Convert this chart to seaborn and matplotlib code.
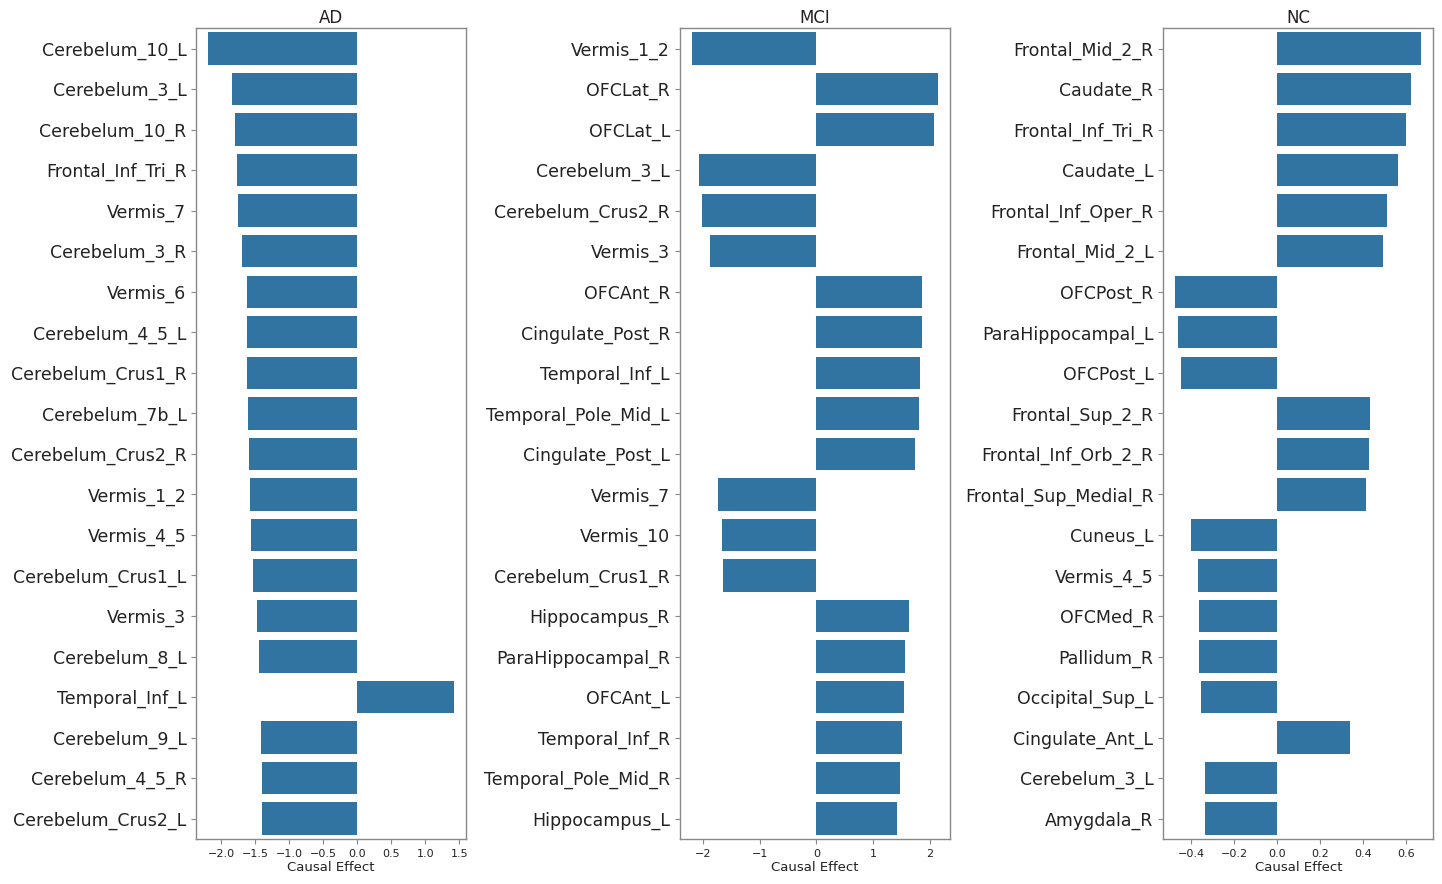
"""
Top causal effects per diagnostic group (AD / MCI / NC).
"""
import matplotlib
matplotlib.use("Agg")
import matplotlib.pyplot as plt
import seaborn as sns
import pandas as pd

# AD group
ad_regions = [
    "Cerebelum_10_L", "Cerebelum_3_L", "Cerebelum_10_R", "Frontal_Inf_Tri_R",
    "Vermis_7", "Cerebelum_3_R", "Vermis_6", "Cerebelum_4_5_L",
    "Cerebelum_Crus1_R", "Cerebelum_7b_L", "Cerebelum_Crus2_R", "Vermis_1_2",
    "Vermis_4_5", "Cerebelum_Crus1_L", "Vermis_3", "Cerebelum_8_L",
    "Temporal_Inf_L", "Cerebelum_9_L", "Cerebelum_4_5_R", "Cerebelum_Crus2_L",
]
ad_effects = [
    -2.19, -1.84, -1.80, -1.77, -1.75, -1.69, -1.62, -1.62, -1.62, -1.61,
    -1.60, -1.58, -1.56, -1.53, -1.47, -1.44, 1.42, -1.41, -1.40, -1.40,
]

# MCI group
mci_regions = [
    "Vermis_1_2", "OFCLat_R", "OFCLat_L", "Cerebelum_3_L", "Cerebelum_Crus2_R",
    "Vermis_3", "OFCAnt_R", "Cingulate_Post_R", "Temporal_Inf_L",
    "Temporal_Pole_Mid_L", "Cingulate_Post_L", "Vermis_7", "Vermis_10",
    "Cerebelum_Crus1_R", "Hippocampus_R", "ParaHippocampal_R", "OFCAnt_L",
    "Temporal_Inf_R", "Temporal_Pole_Mid_R", "Hippocampus_L",
]
mci_effects = [
    -2.20, 2.14, 2.08, -2.07, -2.02, -1.88, 1.86, 1.86, 1.83, 1.81,
    1.74, -1.74, -1.67, -1.65, 1.63, 1.56, 1.55, 1.51, 1.48, 1.42,
]

# NC group
nc_regions = [
    "Frontal_Mid_2_R", "Caudate_R", "Frontal_Inf_Tri_R", "Caudate_L",
    "Frontal_Inf_Oper_R", "Frontal_Mid_2_L", "OFCPost_R", "ParaHippocampal_L",
    "OFCPost_L", "Frontal_Sup_2_R", "Frontal_Inf_Orb_2_R", "Frontal_Sup_Medial_R",
    "Cuneus_L", "Vermis_4_5", "OFCMed_R", "Pallidum_R", "Occipital_Sup_L",
    "Cingulate_Ant_L", "Cerebelum_3_L", "Amygdala_R",
]
nc_effects = [
    0.672, 0.626, 0.602, 0.565, 0.514, 0.495, -0.474, -0.460, -0.446, 0.435,
    0.430, 0.416, -0.400, -0.367, -0.362, -0.362, -0.353, 0.342, -0.334, -0.334,
]

groups = [
    ("AD", ad_regions, ad_effects),
    ("MCI", mci_regions, mci_effects),
    ("NC", nc_regions, nc_effects),
]

fig, axes = plt.subplots(1, 3, figsize=(14.42, 8.84), dpi=100)
fig.subplots_adjust(left=0.136, right=0.994, bottom=0.051, top=0.968, wspace=0.79)

for ax, (name, regions, effects) in zip(axes, groups):
    df = pd.DataFrame({"region": regions, "effect": effects})
    sns.barplot(data=df, x="effect", y="region", orient="h",
                color="#1f77b4", ax=ax)
    ax.set_title(name, fontsize=12, pad=4, color="#222222")
    ax.set_xlabel("Causal Effect", fontsize=9.5, labelpad=2, color="#222222")
    ax.set_ylabel("")
    ax.tick_params(axis="y", labelsize=12.5, colors="#888888",
                   labelcolor="#222222", length=3.5)
    ax.tick_params(axis="x", labelsize=8, colors="#888888",
                   labelcolor="#222222", length=3.5)
    for sp in ax.spines.values():
        sp.set_color("#888888")
        sp.set_linewidth(1.0)

fig.savefig("out.png", dpi=100, facecolor="white")
plt.close(fig)
